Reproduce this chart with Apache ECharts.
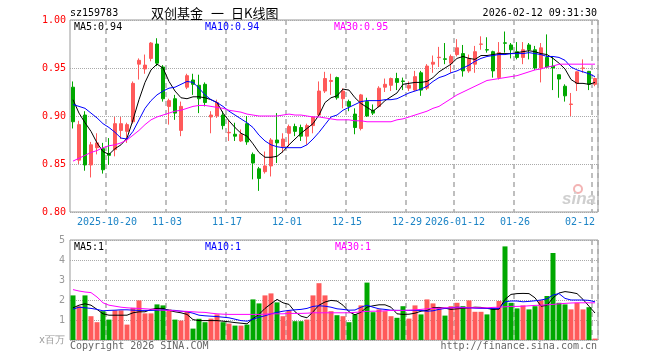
<!DOCTYPE html>
<html><head><meta charset="utf-8">
<script src="https://cdn.jsdelivr.net/npm/echarts@6/dist/echarts.min.js"></script>
<style>html,body{margin:0;padding:0;background:#fff}#c{width:660px;height:360px}</style>
</head><body><div id="c"></div>
<script>
const dates = ['2025-10-10','2025-10-13','2025-10-14','2025-10-15','2025-10-16','2025-10-17','2025-10-20','2025-10-21','2025-10-22','2025-10-23',
'2025-10-24','2025-10-27','2025-10-28','2025-10-29','2025-10-30','2025-10-31','2025-11-03','2025-11-04','2025-11-05','2025-11-06',
'2025-11-07','2025-11-10','2025-11-11','2025-11-12','2025-11-13','2025-11-14','2025-11-17','2025-11-18','2025-11-19','2025-11-20',
'2025-11-21','2025-11-24','2025-11-25','2025-11-26','2025-11-27','2025-11-28','2025-12-01','2025-12-02','2025-12-03','2025-12-04',
'2025-12-05','2025-12-08','2025-12-09','2025-12-10','2025-12-11','2025-12-12','2025-12-15','2025-12-16','2025-12-17','2025-12-18',
'2025-12-19','2025-12-22','2025-12-23','2025-12-24','2025-12-25','2025-12-26','2025-12-29','2025-12-30','2025-12-31','2026-01-05',
'2026-01-06','2026-01-07','2026-01-08','2026-01-09','2026-01-12','2026-01-13','2026-01-14','2026-01-15','2026-01-16','2026-01-19',
'2026-01-20','2026-01-21','2026-01-22','2026-01-23','2026-01-26','2026-01-27','2026-01-28','2026-01-29','2026-01-30','2026-02-02',
'2026-02-03','2026-02-04','2026-02-05','2026-02-06','2026-02-09','2026-02-10','2026-02-11','2026-02-12'];

const openP = [0.930,0.854,0.901,0.849,0.867,0.866,0.861,0.865,0.885,0.884,
0.894,0.954,0.949,0.960,0.975,0.951,0.910,0.918,0.885,0.930,
0.9375,0.932,0.933,0.899,0.900,0.901,0.8825,0.881,0.874,0.892,
0.860,0.845,0.842,0.848,0.875,0.868,0.882,0.889,0.888,0.879,
0.890,0.901,0.926,0.936,0.940,0.918,0.915,0.902,0.887,0.915,
0.906,0.910,0.930,0.932,0.939,0.9365,0.929,0.927,0.945,0.929,
0.954,0.9608,0.9596,0.955,0.964,0.965,0.947,0.954,0.9747,0.9691,
0.967,0.940,0.9762,0.974,0.967,0.961,0.974,0.969,0.950,0.961,
0.952,0.943,0.931,0.912,0.934,0.9497,0.9465,0.933];

const closeP = [0.894,0.891,0.849,0.870,0.872,0.844,0.859,0.892,0.892,0.891,
0.934,0.958,0.953,0.976,0.955,0.918,0.916,0.903,0.910,0.942,
0.933,0.918,0.914,0.901,0.914,0.890,0.883,0.879,0.881,0.873,
0.851,0.835,0.848,0.875,0.872,0.876,0.889,0.884,0.879,0.890,
0.899,0.926,0.939,0.937,0.919,0.926,0.910,0.888,0.922,0.900,
0.903,0.929,0.933,0.939,0.935,0.936,0.932,0.941,0.927,0.952,
0.956,0.9612,0.959,0.962,0.971,0.947,0.960,0.967,0.975,0.9687,
0.947,0.966,0.9758,0.969,0.961,0.969,0.969,0.950,0.971,0.951,
0.950,0.9385,0.921,0.9125,0.946,0.950,0.933,0.939];

const highP = [0.936,0.895,0.905,0.873,0.882,0.872,0.877,0.899,0.899,0.893,
0.936,0.960,0.964,0.977,0.981,0.953,0.918,0.922,0.915,0.944,
0.944,0.943,0.935,0.905,0.917,0.905,0.896,0.893,0.886,0.900,
0.862,0.847,0.863,0.877,0.903,0.882,0.891,0.892,0.891,0.892,
0.899,0.936,0.946,0.944,0.941,0.929,0.917,0.908,0.923,0.919,
0.912,0.931,0.939,0.940,0.945,0.940,0.936,0.947,0.947,0.954,
0.963,0.972,0.976,0.964,0.980,0.974,0.964,0.973,0.983,0.982,
0.968,0.977,0.988,0.976,0.977,0.977,0.976,0.973,0.976,0.985,
0.962,0.943,0.933,0.924,0.9465,0.959,0.947,0.940];

const lowP = [0.887,0.850,0.843,0.836,0.860,0.840,0.849,0.858,0.876,0.872,
0.892,0.938,0.944,0.957,0.952,0.915,0.891,0.896,0.879,0.928,
0.922,0.903,0.910,0.882,0.898,0.886,0.874,0.874,0.873,0.870,
0.834,0.822,0.840,0.837,0.851,0.862,0.868,0.879,0.874,0.870,
0.882,0.900,0.924,0.922,0.917,0.908,0.905,0.881,0.885,0.899,
0.901,0.909,0.925,0.926,0.927,0.927,0.926,0.926,0.921,0.927,
0.945,0.951,0.954,0.945,0.962,0.941,0.945,0.945,0.969,0.966,
0.940,0.938,0.966,0.960,0.959,0.954,0.959,0.948,0.935,0.950,
0.927,0.919,0.915,0.900,0.926,0.945,0.927,0.931];

const volume = [2.23,1.69,2.23,1.19,0.89,1.44,1.02,1.48,1.48,0.77,
1.61,1.98,1.33,1.33,1.78,1.73,1.53,1.02,0.97,1.41,
0.57,1.06,0.89,1.07,1.28,0.89,0.82,0.72,0.72,0.77,
2.03,1.83,2.23,2.33,1.88,1.19,1.48,0.94,0.94,1.02,
2.23,2.84,2.23,1.44,1.24,1.19,0.89,1.28,1.73,2.87,
1.39,1.53,1.44,1.19,1.11,1.69,1.07,1.73,1.28,2.03,
1.83,1.61,1.22,1.69,1.86,1.69,1.98,1.41,1.41,1.28,
1.58,1.95,4.68,1.86,1.58,1.73,1.53,1.69,1.98,2.20,
4.35,1.86,1.78,1.53,1.86,1.53,1.64,0.07];

const ma5 = [0.917,0.903,0.893,0.884,0.872,0.863,0.860,0.866,0.870,0.877,
0.896,0.917,0.935,0.948,0.954,0.950,0.936,0.926,0.919,0.918,
0.920,0.920,0.919,0.917,0.914,0.903,0.895,0.888,0.882,0.879,
0.871,0.862,0.857,0.857,0.858,0.863,0.870,0.876,0.882,0.887,
0.892,0.901,0.914,0.919,0.921,0.928,0.927,0.919,0.913,0.909,
0.905,0.910,0.916,0.920,0.924,0.933,0.934,0.935,0.935,0.936,
0.940,0.946,0.950,0.954,0.960,0.962,0.960,0.959,0.963,0.963,
0.964,0.965,0.965,0.965,0.966,0.967,0.968,0.967,0.965,0.964,
0.960,0.955,0.949,0.938,0.934,0.934,0.933,0.935];

const ma10 = [0.912,0.910,0.908,0.903,0.898,0.892,0.888,0.883,0.877,0.876,
0.884,0.896,0.908,0.916,0.922,0.926,0.929,0.930,0.933,0.936,
0.935,0.929,0.922,0.917,0.914,0.910,0.905,0.901,0.897,0.893,
0.888,0.880,0.874,0.870,0.868,0.867,0.867,0.867,0.867,0.870,
0.876,0.883,0.891,0.899,0.901,0.906,0.909,0.912,0.915,0.916,
0.916,0.916,0.917,0.917,0.918,0.921,0.924,0.926,0.928,0.931,
0.936,0.940,0.942,0.945,0.947,0.950,0.953,0.957,0.960,0.962,
0.963,0.964,0.964,0.965,0.965,0.965,0.966,0.965,0.964,0.962,
0.962,0.961,0.958,0.951,0.948,0.946,0.944,0.941];

const ma30 = [0.853,0.856,0.859,0.862,0.864,0.867,0.869,0.870,0.872,0.875,
0.880,0.885,0.891,0.896,0.899,0.901,0.903,0.905,0.906,0.908,
0.910,0.911,0.911,0.910,0.909,0.908,0.906,0.905,0.904,0.902,
0.901,0.900,0.900,0.900,0.900,0.901,0.902,0.901,0.901,0.900,
0.899,0.899,0.898,0.897,0.896,0.896,0.896,0.895,0.895,0.894,
0.894,0.894,0.894,0.894,0.896,0.897,0.899,0.901,0.903,0.905,
0.908,0.910,0.914,0.918,0.922,0.925,0.928,0.931,0.934,0.937,
0.938,0.939,0.940,0.941,0.942,0.944,0.946,0.948,0.949,0.951,
0.952,0.954,0.954,0.954,0.954,0.954,0.954,0.954];

const vma5 = [1.61,1.74,1.81,1.74,1.53,1.31,1.24,1.24,1.24,1.24,
1.36,1.41,1.41,1.53,1.58,1.58,1.48,1.41,1.36,1.28,
1.02,0.97,0.97,0.97,0.97,0.94,0.91,0.87,0.84,0.81,
1.07,1.28,1.58,1.81,2.03,1.86,1.78,1.41,1.19,1.11,
1.41,1.74,1.90,1.98,1.95,1.74,1.41,1.26,1.39,1.64,
1.71,1.76,1.76,1.64,1.31,1.28,1.29,1.34,1.44,1.48,
1.61,1.63,1.59,1.53,1.56,1.58,1.61,1.64,1.63,1.58,
1.53,1.54,2.03,2.28,2.32,2.33,2.32,2.11,1.69,1.73,
2.11,2.35,2.42,2.38,2.32,2.03,1.69,1.35];

const vma10 = [1.54,1.64,1.61,1.58,1.53,1.46,1.48,1.49,1.51,1.51,
1.49,1.48,1.48,1.48,1.49,1.51,1.49,1.48,1.44,1.41,
1.34,1.24,1.21,1.19,1.17,1.14,1.11,1.04,0.97,0.94,
1.04,1.14,1.21,1.31,1.38,1.44,1.48,1.51,1.53,1.58,
1.68,1.71,1.69,1.64,1.56,1.53,1.49,1.50,1.64,1.74,
1.64,1.56,1.53,1.49,1.48,1.48,1.48,1.48,1.48,1.44,
1.46,1.53,1.58,1.61,1.64,1.63,1.61,1.59,1.58,1.58,
1.58,1.58,1.91,1.95,1.95,1.91,1.93,1.96,2.00,2.06,
2.25,2.32,2.08,2.00,2.00,2.00,1.98,1.91];

const vma30 = [2.52,2.45,2.40,2.37,2.15,1.86,1.74,1.69,1.64,1.61,
1.59,1.58,1.56,1.54,1.51,1.49,1.48,1.46,1.44,1.43,
1.41,1.39,1.38,1.34,1.31,1.29,1.28,1.28,1.28,1.28,
1.28,1.28,1.29,1.31,1.31,1.31,1.33,1.33,1.33,1.34,
1.36,1.36,1.36,1.36,1.36,1.36,1.36,1.38,1.41,1.43,
1.44,1.44,1.46,1.48,1.48,1.48,1.49,1.51,1.53,1.56,
1.58,1.59,1.61,1.61,1.61,1.61,1.61,1.61,1.61,1.61,
1.63,1.64,1.66,1.68,1.68,1.69,1.71,1.73,1.74,1.76,
1.78,1.81,1.83,1.85,1.86,1.86,1.86,1.86];

const tickDates = ['2025-10-20','2025-11-03','2025-11-17','2025-12-01','2025-12-15','2025-12-29','2026-01-12','2026-01-26','2026-02-12'];
const tickLabels = ['2025-10-20','11-03','11-17','12-01','12-15','12-29','2026-01-12','01-26','02-12'];

const UP = '#ff5a5a', DOWN = '#00a800';
const MONO = '"DejaVu Sans Mono","Liberation Mono",monospace';
const F10 = '10px ' + MONO;
const FCJK = '13px "Noto Sans CJK SC"';

const candleData = dates.map((d, i) => [openP[i], closeP[i], lowP[i], highP[i]]);
const volData = volume.map((v, i) => ({ value: v, itemStyle: { color: closeP[i] >= openP[i] ? UP : DOWN } }));
const isTick = (idx) => tickDates.indexOf(dates[idx]) >= 0;

const splitV = { show: true, interval: (i) => isTick(i), lineStyle: { color: '#aaa', type: [5, 4], width: 1.5 } };

const chart = echarts.init(document.getElementById('c'), null, { renderer: 'canvas' });
chart.setOption({
  animation: false,
  backgroundColor: '#fff',
  grid: [
    { left: 70, top: 20, width: 528, height: 192, show: true, borderColor: '#999', borderWidth: 1, backgroundColor: 'transparent' },
    { left: 70, top: 240, width: 528, height: 100, show: true, borderColor: '#999', borderWidth: 1, backgroundColor: 'transparent' }
  ],
  xAxis: [
    { type: 'category', gridIndex: 0, data: dates, boundaryGap: true,
      axisLine: { show: false }, axisTick: { show: false },
      axisLabel: { interval: (i) => isTick(i), color: '#1c84c6', fontFamily: MONO, fontSize: 10, margin: 5,
        formatter: (v) => { const k = tickDates.indexOf(v); if (k < 0) return ''; return (k === tickDates.length - 1 ? '{e|' : '{s|') + tickLabels[k] + '}'; },
        rich: { s: { padding: [0, 4, 0, 0], color: '#1c84c6', fontFamily: MONO, fontSize: 10 }, e: { padding: [0, 30, 0, 0], color: '#1c84c6', fontFamily: MONO, fontSize: 10 } } },
      splitLine: splitV },
    { type: 'category', gridIndex: 1, data: dates, boundaryGap: true,
      axisLine: { show: false }, axisTick: { show: false }, axisLabel: { show: false },
      splitLine: splitV }
  ],
  yAxis: [
    { type: 'value', gridIndex: 0, min: 0.80, max: 1.00, interval: 0.05,
      axisLine: { show: false }, axisTick: { show: false },
      axisLabel: { color: '#ff0000', fontFamily: MONO, fontSize: 10, margin: 4, formatter: (v) => v.toFixed(2) },
      splitLine: { lineStyle: { color: '#aaa', type: 'dotted' } } },
    { type: 'value', gridIndex: 1, min: 0, max: 5, interval: 1,
      axisLine: { show: false }, axisTick: { show: false },
      axisLabel: { color: '#999', fontFamily: MONO, fontSize: 10, margin: 5, formatter: (v) => v === 0 ? 'x百万' : String(v) },
      splitLine: { lineStyle: { color: '#aaa', type: 'dotted' } } }
  ],
  series: [
    { type: 'candlestick', xAxisIndex: 0, yAxisIndex: 0, data: candleData, barWidth: 4,
      itemStyle: { color: UP, color0: DOWN, borderColor: UP, borderColor0: DOWN, borderWidth: 1 }, z: 2 },
    { type: 'line', xAxisIndex: 0, yAxisIndex: 0, data: ma5, symbol: 'none', lineStyle: { color: '#000', width: 1 }, z: 3 },
    { type: 'line', xAxisIndex: 0, yAxisIndex: 0, data: ma10, symbol: 'none', lineStyle: { color: '#0000ff', width: 1 }, z: 3 },
    { type: 'line', xAxisIndex: 0, yAxisIndex: 0, data: ma30, symbol: 'none', lineStyle: { color: '#ff00ff', width: 1 }, z: 3 },
    { type: 'bar', xAxisIndex: 1, yAxisIndex: 1, data: volData, barWidth: 5, z: 2 },
    { type: 'line', xAxisIndex: 1, yAxisIndex: 1, data: vma5, symbol: 'none', lineStyle: { color: '#000', width: 1 }, z: 3 },
    { type: 'line', xAxisIndex: 1, yAxisIndex: 1, data: vma10, symbol: 'none', lineStyle: { color: '#0000ff', width: 1 }, z: 3 },
    { type: 'line', xAxisIndex: 1, yAxisIndex: 1, data: vma30, symbol: 'none', lineStyle: { color: '#ff00ff', width: 1 }, z: 3 }
  ],
  graphic: [
    { type: 'text', x: 70, y: 13, style: { text: 'sz159783', fill: '#000', font: F10, textVerticalAlign: 'middle' } },
    { type: 'text', x: 151, y: 13, style: { text: '双创基金', fill: '#000', font: FCJK, textVerticalAlign: 'middle' } },
    { type: 'text', x: 211, y: 13, style: { text: '一', fill: '#000', font: FCJK, textVerticalAlign: 'middle' } },
    { type: 'text', x: 231, y: 13, style: { text: '日K线图', fill: '#000', font: FCJK, textVerticalAlign: 'middle' } },
    { type: 'text', x: 597, y: 13, style: { text: '2026-02-12 09:31:30', fill: '#000', font: F10, textAlign: 'right', textVerticalAlign: 'middle' } },
    { type: 'text', x: 74, y: 27, z: 10, style: { text: 'MA5:0.94', fill: '#000', font: F10, textVerticalAlign: 'middle' } },
    { type: 'text', x: 205, y: 27, z: 10, style: { text: 'MA10:0.94', fill: '#0000ff', font: F10, textVerticalAlign: 'middle' } },
    { type: 'text', x: 334, y: 27, z: 10, style: { text: 'MA30:0.95', fill: '#ff00ff', font: F10, textVerticalAlign: 'middle' } },
    { type: 'text', x: 74, y: 247, z: 10, style: { text: 'MA5:1', fill: '#000', font: F10, textVerticalAlign: 'middle' } },
    { type: 'text', x: 205, y: 247, z: 10, style: { text: 'MA10:1', fill: '#0000ff', font: F10, textVerticalAlign: 'middle' } },
    { type: 'text', x: 335, y: 247, z: 10, style: { text: 'MA30:1', fill: '#ff00ff', font: F10, textVerticalAlign: 'middle' } },
    { type: 'text', x: 70, y: 346, style: { text: 'Copyright 2026 SINA.COM', fill: '#666', font: F10, textVerticalAlign: 'middle' } },
    { type: 'text', x: 597, y: 346, style: { text: 'http://finance.sina.com.cn', fill: '#666', font: F10, textAlign: 'right', textVerticalAlign: 'middle' } },
    { type: 'circle', shape: { cx: 578, cy: 189, r: 4 }, style: { fill: 'none', stroke: '#f3b4b4', lineWidth: 2 }, z: 1 },
    { type: 'text', x: 596, y: 199, z: 1, style: { text: 'sina', fill: '#cfcfcf', font: 'italic bold 17px "Liberation Sans"', textAlign: 'right', textVerticalAlign: 'middle' } }
  ]
});
</script>
</body></html>
